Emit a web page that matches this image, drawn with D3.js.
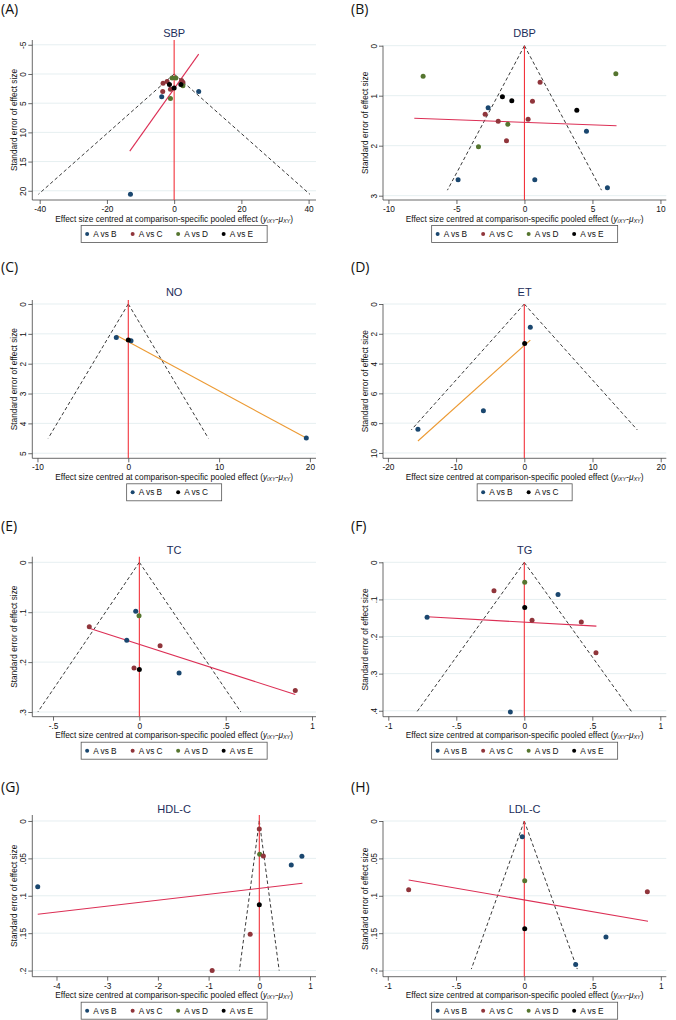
<!DOCTYPE html>
<html><head><meta charset="utf-8">
<script src="https://cdn.jsdelivr.net/npm/d3@7"></script>
<style>body{margin:0;background:#fff} svg{display:block}</style>
</head><body>
<svg id="c" width="676" height="1020"></svg>
<script>
// ---------- series ----------
const fourSeries = ["A vs B","A vs C","A vs D","A vs E"];
const fourColors = ["#1a476f","#90353b","#55752f","#000000"];
const twoSeries = ["A vs B","A vs C"];
const twoColors = ["#1a476f","#000000"];

// ---------- data: [series index, centred effect, standard error] ----------
const sbpPoints = [[0,-13.0,20.6],[0,7.3,3.0],[0,-3.7,3.9],
  [1,-3.4,3.0],[1,-3.3,1.6],[1,-2.1,1.3],[1,-1.1,2.6],[1,2.6,1.4],[1,2.2,1.1],
  [2,-0.6,0.7],[2,0.5,0.7],[2,2.6,2.0],[2,-1.1,4.2],
  [3,-1.4,1.8],[3,0.0,2.4],[3,2.0,1.8]];
const sbpFit = [[-13.2,13.2],[7.3,-3.4]];
const sbpSeMax = 20.6;
const sbpXTicks = [-40,-20,0,20,40];
const sbpYTicks = [-5,0,5,10,15,20];

const dbpPoints = [[2,-7.45,0.61],[2,6.72,0.56],[1,1.15,0.73],[3,-1.62,1.02],[3,-0.93,1.10],
  [1,0.59,1.11],[0,-2.67,1.24],[3,3.85,1.29],[1,-2.89,1.37],[1,-1.93,1.51],[1,0.27,1.47],
  [2,-1.22,1.57],[0,4.56,1.71],[1,-1.32,1.90],[2,-3.38,2.02],[0,-4.88,2.68],[0,0.76,2.68],[0,6.1,2.84]];
const dbpFit = [[-8.1,1.45],[6.77,1.6]];
const dbpSeMax = 2.89;
const dbpXTicks = [-10,-5,0,5,10];
const dbpYTicks = [0,1,2,3];

const noPoints = [[0,-1.32,1.12],[0,0.3,1.23],[1,0.0,1.21],[0,19.6,4.49]];
const noFit = [[-1.32,1.05],[19.6,4.49]];
const noSeMax = 4.5;
const noXTicks = [-10,0,10,20];
const noYTicks = [0,1,2,3,4,5];

const etPoints = [[0,0.88,1.56],[1,0.05,2.66],[0,-6.0,7.16],[0,-15.6,8.41]];
const etFit = [[-15.6,9.2],[0.88,2.42]];
const etSeMax = 8.45;
const etXTicks = [-20,-10,0,10,20];
const etYTicks = [0,2,4,6,8,10];

const tcPoints = [[0,-0.021,0.098],[2,-0.002,0.107],[1,-0.29,0.129],[0,-0.073,0.156],
  [1,0.12,0.167],[1,-0.031,0.212],[3,0.0,0.215],[0,0.23,0.222],[1,0.903,0.257]];
const tcFit = [[-0.29,0.132],[0.903,0.265]];
const tcSeMax = 0.3;
const tcXTicks = [-0.5,0,0.5,1];
const tcYTicks = [0,0.1,0.2,0.3];

const tgPoints = [[2,0.003,0.054],[1,-0.223,0.0765],[0,0.248,0.087],[3,0.003,0.122],
  [0,-0.715,0.148],[1,0.057,0.156],[1,0.419,0.161],[1,0.527,0.244],[0,-0.103,0.403]];
const tgFit = [[-0.715,0.1466],[0.53,0.172]];
const tgSeMax = 0.402;
const tgXTicks = [-1,-0.5,0,0.5,1];
const tgYTicks = [0,0.1,0.2,0.3,0.4];

const hdlPoints = [[1,0.0,0.0107],[2,0.007,0.0445],[1,0.08,0.0468],[0,0.84,0.047],[0,0.63,0.059],
  [0,-4.37,0.088],[3,0.0,0.112],[1,-0.18,0.1515],[1,-0.93,0.2]];
const hdlFit = [[-4.37,0.1248],[0.85,0.0833]];
const hdlSeMax = 0.2;
const hdlXTicks = [-4,-3,-2,-1,0,1];
const hdlYTicks = [0,0.05,0.1,0.15,0.2];

const ldlPoints = [[0,-0.015,0.021],[2,0.003,0.08],[1,-0.847,0.092],[1,0.901,0.0945],
  [3,0.003,0.144],[0,0.598,0.155],[0,0.376,0.192]];
const ldlFit = [[-0.847,0.079],[0.906,0.134]];
const ldlSeMax = 0.198;
const ldlXTicks = [-1,-0.5,0,0.5,1];
const ldlYTicks = [0,0.05,0.1,0.15,0.2];

// ---------- layout (positions / styles) ----------
const crimson = "#dc2f55", orange = "#ec9a33";
const L = {x0:32.3, x1:316}, R = {x0:383, x1:666.3};
const panels = [
 {lab:"(A)", title:"SBP", pts:sbpPoints, fit:sbpFit, fc:crimson, se:sbpSeMax, xt:sbpXTicks, yt:sbpYTicks, names:fourSeries, cols:fourColors,
  c:L, y0:40, y1:200, xd:[-42.2,42.2], yd:[-5.82,21.58], labY:8.5, titY:33},
 {lab:"(B)", title:"DBP", pts:dbpPoints, fit:dbpFit, fc:crimson, se:dbpSeMax, xt:dbpXTicks, yt:dbpYTicks, names:fourSeries, cols:fourColors,
  c:R, y0:45.7, y1:200, xd:[-10.4,10.43], yd:[0,3.086], labY:8.5, titY:33},
 {lab:"(C)", title:"NO", pts:noPoints, fit:noFit, fc:orange, se:noSeMax, xt:noXTicks, yt:noYTicks, names:twoSeries, cols:twoColors,
  c:L, y0:300, y1:458.3, xd:[-10.57,20.67], yd:[-0.134,5.17], labY:266.7, titY:292.3},
 {lab:"(D)", title:"ET", pts:etPoints, fit:etFit, fc:orange, se:etSeMax, xt:etXTicks, yt:etYTicks, names:twoSeries, cols:twoColors,
  c:R, y0:304, y1:458.3, xd:[-20.72,20.82], yd:[0,10.36], labY:266.7, titY:292.3},
 {lab:"(E)", title:"TC", pts:tcPoints, fit:tcFit, fc:crimson, se:tcSeMax, xt:tcXTicks, yt:tcYTicks, names:fourSeries, cols:fourColors,
  c:L, y0:556.7, y1:716.7, xd:[-0.62,1.023], yd:[-0.0112,0.3094], labY:525, titY:550},
 {lab:"(F)", title:"TG", pts:tgPoints, fit:tgFit, fc:crimson, se:tgSeMax, xt:tgXTicks, yt:tgYTicks, names:fourSeries, cols:fourColors,
  c:R, y0:562.3, y1:716.7, xd:[-1.039,1.044], yd:[0,0.416], labY:525, titY:550},
 {lab:"(G)", title:"HDL-C", pts:hdlPoints, fit:hdlFit, fc:crimson, se:hdlSeMax, xt:hdlXTicks, yt:hdlYTicks, names:fourSeries, cols:fourColors,
  c:L, y0:815, y1:976.7, xd:[-4.477,1.118], yd:[-0.008,0.2082], labY:786.7, titY:809.3},
 {lab:"(H)", title:"LDL-C", pts:ldlPoints, fit:ldlFit, fc:crimson, se:ldlSeMax, xt:ldlXTicks, yt:ldlYTicks, names:fourSeries, cols:fourColors,
  c:R, y0:821, y1:976.7, xd:[-1.035,1.04], yd:[0,0.2082], labY:786.7, titY:809.3}
];

const svg = d3.select("#c");
const FONT = "'Liberation Sans', Arial, sans-serif";
const fmt = v => String(+v.toFixed(4)).replace(/^(-?)0\./, "$1.");

panels.forEach(p => {
  const g = svg.append("g");
  const x = d3.scaleLinear().domain(p.xd).range([p.c.x0, p.c.x1]);
  const y = d3.scaleLinear().domain(p.yd).range([p.y0, p.y1]);
  const cx = (p.c.x0 + p.c.x1) / 2;

  // panel label
  g.append("text").attr("x", p.c === L ? 1 : 351).attr("y", p.labY)
    .attr("dominant-baseline","central").attr("font-family","'Open Sans', sans-serif")
    .attr("font-size", 14).attr("fill","#111").text(p.lab);
  // title
  g.append("text").attr("x", cx).attr("y", p.titY).attr("text-anchor","middle")
    .attr("dominant-baseline","central").attr("font-family", FONT).attr("font-size", 11)
    .attr("fill","#1c2d5a").text(p.title);

  // gridlines
  g.selectAll(".grid").data(p.yt).join("line")
    .attr("x1", p.c.x0).attr("x2", p.c.x1).attr("y1", d => y(d)).attr("y2", d => y(d))
    .attr("stroke", "#e6eff1").attr("stroke-width", 1);

  // y axis
  const ya = d3.axisLeft(y).tickValues(p.yt).tickSize(4).tickPadding(3).tickFormat(fmt);
  const yg = g.append("g").attr("transform", `translate(${p.c.x0},0)`).call(ya);
  yg.select(".domain").attr("d", `M0,${p.y0}V${p.y1}`).attr("stroke","#444").attr("stroke-width",0.8);
  yg.selectAll(".tick line").attr("stroke","#444").attr("stroke-width",0.8);
  yg.selectAll(".tick text").attr("font-family", FONT).attr("font-size", 8.3).attr("fill","#111")
    .attr("text-anchor","middle").attr("x", 0).attr("dy", null).attr("dominant-baseline","central")
    .attr("transform", "translate(-9,0) rotate(-90)");

  // x axis
  const xa = d3.axisBottom(x).tickValues(p.xt).tickSize(4).tickPadding(2).tickFormat(fmt);
  const xg = g.append("g").attr("transform", `translate(0,${p.y1})`).call(xa);
  xg.select(".domain").attr("d", `M${p.c.x0},0H${p.c.x1}`).attr("stroke","#444").attr("stroke-width",0.8);
  xg.selectAll(".tick line").attr("stroke","#444").attr("stroke-width",0.8);
  xg.selectAll(".tick text").attr("font-family", FONT).attr("font-size", 8.3).attr("fill","#111");

  // axis titles
  g.append("text").attr("transform", `translate(${p.c.x0 - 18},${(p.y0 + p.y1) / 2}) rotate(-90)`)
    .attr("text-anchor","middle").attr("dominant-baseline","central")
    .attr("font-family", FONT).attr("font-size", 8.3).attr("fill","#111")
    .text("Standard error of effect size");
  const xt = g.append("text").attr("x", cx).attr("y", p.y1 + 18.5).attr("text-anchor","middle")
    .attr("dominant-baseline","central").attr("font-family", FONT).attr("font-size", 8.3).attr("fill","#111");
  xt.append("tspan").text("Effect size centred at comparison-specific pooled effect (");
  xt.append("tspan").attr("font-style","italic").text("y");
  xt.append("tspan").attr("font-style","italic").attr("font-size",5.5).attr("dy",2).text("iXY");
  xt.append("tspan").attr("dy",-2).text("-");
  xt.append("tspan").attr("font-style","italic").text("\u03bc");
  xt.append("tspan").attr("font-style","italic").attr("font-size",5.5).attr("dy",2).text("XY");
  xt.append("tspan").attr("dy",-2).text(")");

  // clip
  const cid = "clip" + p.lab.replace(/\W/g,"");
  svg.append("clipPath").attr("id", cid).append("rect")
    .attr("x", p.c.x0).attr("y", p.y0 - 6).attr("width", p.c.x1 - p.c.x0).attr("height", p.y1 - p.y0 + 6);
  const pg = g.append("g").attr("clip-path", `url(#${cid})`);

  // funnel (pseudo 95% limits)
  [-1, 1].forEach(s => {
    pg.append("line").attr("x1", x(0)).attr("y1", y(0)).attr("x2", x(s * 1.96 * p.se)).attr("y2", y(p.se))
      .attr("stroke", "#222").attr("stroke-width", 0.9).attr("stroke-dasharray", "3.5,2.5");
  });
  // red vertical line at zero
  pg.append("line").attr("x1", x(0)).attr("x2", x(0)).attr("y1", p.y0).attr("y2", p.y1)
    .attr("stroke", "#f2333b").attr("stroke-width", 1.1);
  // fit line
  pg.append("line").attr("x1", x(p.fit[0][0])).attr("y1", y(p.fit[0][1]))
    .attr("x2", x(p.fit[1][0])).attr("y2", y(p.fit[1][1]))
    .attr("stroke", p.fc).attr("stroke-width", 1.1);
  // points
  g.selectAll(".pt").data(p.pts).join("circle")
    .attr("cx", d => x(d[1])).attr("cy", d => y(d[2])).attr("r", 2.5)
    .attr("fill", d => p.cols[d[0]]);

  // legend
  const n = p.names.length, ew = 45.5, lw = n * ew + 4, lh = 17;
  const lx = cx - lw / 2, ly = p.y1 + 34 - lh / 2;
  const lg = g.append("g");
  lg.append("rect").attr("x", lx).attr("y", ly).attr("width", lw).attr("height", lh)
    .attr("fill", "#fff").attr("stroke", "#555").attr("stroke-width", 0.8);
  p.names.forEach((nm, i) => {
    const ex = lx + 6 + i * ew;
    lg.append("circle").attr("cx", ex).attr("cy", ly + lh / 2).attr("r", 2).attr("fill", p.cols[i]);
    lg.append("text").attr("x", ex + 6).attr("y", ly + lh / 2).attr("dominant-baseline","central")
      .attr("font-family", FONT).attr("font-size", 8.3).attr("fill", "#111").text(nm);
  });
});
</script>
</body></html>
